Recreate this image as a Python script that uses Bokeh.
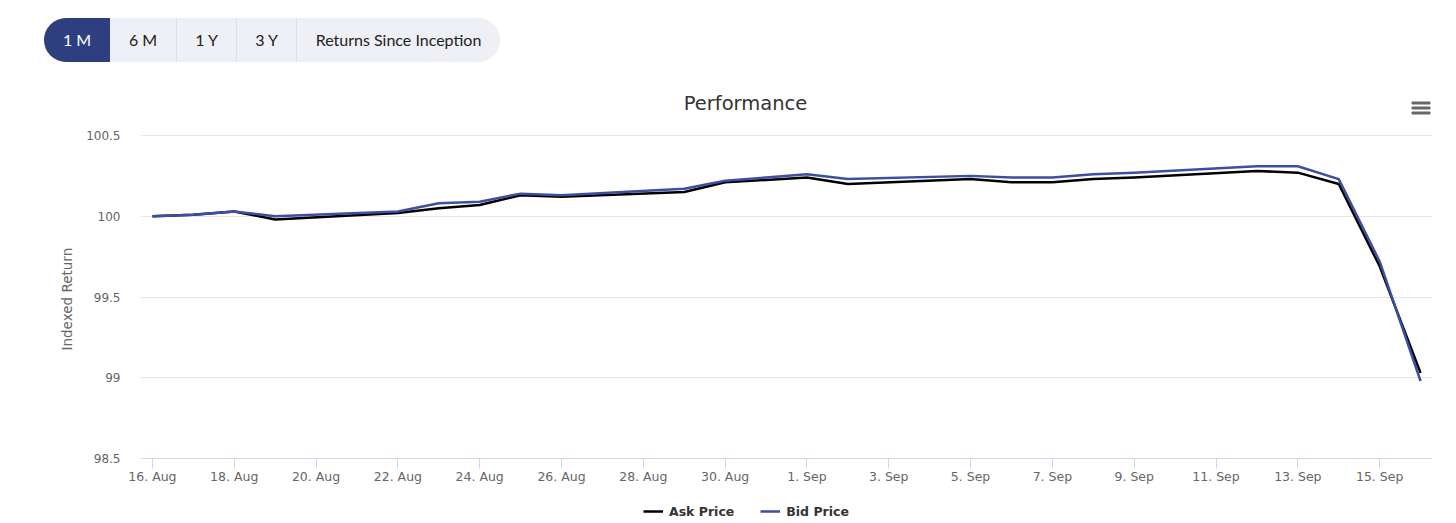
import pandas as pd
from bokeh.plotting import figure
from bokeh.models import (Div, FixedTicker, Range1d, Legend, LegendItem, Label, Title,
                          BoxAnnotation, ColumnDataSource, CustomJSTickFormatter)
from bokeh.layouts import column
from bokeh.embed import file_html
from bokeh.resources import INLINE

# ---------------- data ----------------
dates = ["2022-08-16", "2022-08-17", "2022-08-18", "2022-08-19",
         "2022-08-22", "2022-08-23", "2022-08-24", "2022-08-25", "2022-08-26",
         "2022-08-29", "2022-08-30", "2022-08-31", "2022-09-01", "2022-09-02",
         "2022-09-05", "2022-09-06", "2022-09-07", "2022-09-08", "2022-09-09",
         "2022-09-12", "2022-09-13", "2022-09-14", "2022-09-15", "2022-09-16"]
ask_price = [100.00, 100.01, 100.03, 99.98,
             100.02, 100.05, 100.07, 100.13, 100.12,
             100.15, 100.21, 100.225, 100.24, 100.20,
             100.23, 100.21, 100.21, 100.23, 100.24,
             100.28, 100.27, 100.20, 99.69, 99.03]
bid_price = [100.00, 100.01, 100.03, 100.00,
             100.03, 100.08, 100.09, 100.14, 100.13,
             100.17, 100.22, 100.24, 100.26, 100.23,
             100.25, 100.24, 100.24, 100.26, 100.27,
             100.31, 100.31, 100.23, 99.72, 98.98]
x_tick_dates = ["2022-08-16", "2022-08-18", "2022-08-20", "2022-08-22", "2022-08-24",
                "2022-08-26", "2022-08-28", "2022-08-30", "2022-09-01", "2022-09-03",
                "2022-09-05", "2022-09-07", "2022-09-09", "2022-09-11", "2022-09-13",
                "2022-09-15"]
y_ticks = [98.5, 99, 99.5, 100, 100.5]
buttons = ["1 M", "6 M", "1 Y", "3 Y", "Returns Since Inception"]
selected_button = "1 M"
title_text = "Performance"
y_axis_title = "Indexed Return"
series_names = ["Ask Price", "Bid Price"]

FONT = "DejaVu Sans"
BTN_FONT = "Lato"
BLUE = "#3c4fa0"
NAVY = "#2e3f80"

# ---------------- header (range buttons) ----------------
widths = [66, 66, 60, 60, 204]
segs = []
for i, (b, w) in enumerate(zip(buttons, widths)):
    sel = (b == selected_button)
    bg = NAVY if sel else "#eef0f5"
    col = "#ffffff" if sel else "#222222"
    border = "" if (sel or i == 1) else "border-left:1px solid #dcdfe7;"
    segs.append(
        f'<div style="box-sizing:border-box;width:{w}px;height:44px;line-height:44px;'
        f'text-align:center;white-space:nowrap;background:{bg};color:{col};{border}">{b}</div>'
    )
header_html = (
    f'<div style="position:relative;width:1456px;height:78px;font-family:{BTN_FONT};font-size:16px;">'
    f'<div style="position:absolute;left:44px;top:18px;height:44px;display:flex;'
    f'border-radius:22px;overflow:hidden;background:#eef0f5;">'
    + "".join(segs) +
    '</div></div>'
)
header = Div(text=header_html, width=1456, height=78, margin=(0, 0, 0, 0))

# ---------------- chart ----------------
x = pd.to_datetime(dates)
src = ColumnDataSource(dict(date=x, ask=ask_price, bid=bid_price))
pad = pd.Timedelta(hours=7)
px_per_unit = 161.5
head_room = 55 / px_per_unit   # empty space above top gridline (title row)

p = figure(width=1456, height=412, output_backend="svg", toolbar_location=None,
           x_axis_type="datetime",
           x_range=Range1d(x[0] - pad, x[-1] + pad),
           y_range=Range1d(min(y_ticks), max(y_ticks) + head_room),
           min_border_left=140, min_border_right=24,
           min_border_top=2, min_border_bottom=32,
           margin=(0, 0, 0, 0))
p.outline_line_color = None
p.background_fill_color = "white"
p.border_fill_color = "white"

r_ask = p.line("date", "ask", source=src, line_color="black", line_width=2.5,
               line_join="round")
r_bid = p.line("date", "bid", source=src, line_color=BLUE, line_width=2.5,
               line_join="round")

# x axis
xt = [pd.Timestamp(d).value // 10**6 for d in x_tick_dates]
p.xaxis.ticker = FixedTicker(ticks=xt)
p.xaxis.formatter = CustomJSTickFormatter(code="""
const m = ["Jan","Feb","Mar","Apr","May","Jun","Jul","Aug","Sep","Oct","Nov","Dec"];
const d = new Date(tick);
return d.getUTCDate() + ". " + m[d.getUTCMonth()];
""")
p.xaxis.axis_line_color = "#ccd6eb"
p.xaxis.major_tick_line_color = "#ccd6eb"
p.xaxis.major_tick_in = 0
p.xaxis.major_tick_out = 10
p.xaxis.minor_tick_line_color = None
p.xaxis.major_label_text_font = FONT
p.xaxis.major_label_text_font_size = "12.5px"
p.xaxis.major_label_text_color = "#666666"
p.xaxis.major_label_standoff = 0
p.xgrid.grid_line_color = None

# y axis
p.yaxis.ticker = FixedTicker(ticks=y_ticks)
p.yaxis.formatter = CustomJSTickFormatter(code="return String(tick);")
p.yaxis.axis_line_color = None
p.yaxis.major_tick_line_color = None
p.yaxis.minor_tick_line_color = None
p.yaxis.major_tick_in = 0
p.yaxis.major_tick_out = 0
p.yaxis.major_label_standoff = 20
p.yaxis.major_label_text_font = FONT
p.yaxis.major_label_text_font_size = "12px"
p.yaxis.major_label_text_color = "#666666"
p.ygrid.grid_line_color = "#e6e6e6"
p.ygrid.grid_line_width = 1

# y axis title, centred on the gridded part (98.5 .. 100.5)
p.add_layout(Title(text=y_axis_title, align="left", offset=108, standoff=18,
                   text_font=FONT, text_font_size="13.5px", text_font_style="normal",
                   text_color="#666666"), "left")

# chart title and menu icon (inside the head room of the frame)
p.add_layout(Label(x=605, y=355, x_units="screen", y_units="screen", text=title_text,
                   text_font=FONT, text_font_size="19.5px", text_color="#333333",
                   text_align="center", text_baseline="middle"))
for top in (357, 352, 347):
    p.add_layout(BoxAnnotation(left=1271, right=1290, top=top, bottom=top - 3,
                               left_units="screen", right_units="screen",
                               top_units="screen", bottom_units="screen",
                               fill_color="#666666", fill_alpha=1.0,
                               line_color=None, border_radius=1))

# ---------------- legend strip ----------------
lg = figure(width=1456, height=33, output_backend="svg", toolbar_location=None,
            x_range=Range1d(0, 1), y_range=Range1d(0, 1),
            x_axis_location=None, y_axis_location=None,
            min_border=0, margin=(0, 0, 0, 0))
lg.outline_line_color = None
lg.xgrid.grid_line_color = None
lg.ygrid.grid_line_color = None
# same series; ranges of this strip keep them out of view, only legend swatches show
l_ask = lg.line("date", "ask", source=src, line_color="black", line_width=2.5)
l_bid = lg.line("date", "bid", source=src, line_color=BLUE, line_width=2.5)
legend = Legend(items=[LegendItem(label=series_names[0], renderers=[l_ask]),
                       LegendItem(label=series_names[1], renderers=[l_bid])],
                orientation="horizontal", location=(503, 2),
                label_text_font=FONT, label_text_font_style="bold",
                label_text_font_size="12.5px", label_text_color="#333333",
                border_line_color=None, background_fill_alpha=0,
                glyph_width=20, glyph_height=20, label_height=20,
                label_standoff=6, spacing=26, padding=0, margin=0)
lg.add_layout(legend, "center")

layout = column(header, p, lg, spacing=0, margin=(0, 0, 0, 0))
open("out.html", "w").write(file_html(layout, INLINE))
